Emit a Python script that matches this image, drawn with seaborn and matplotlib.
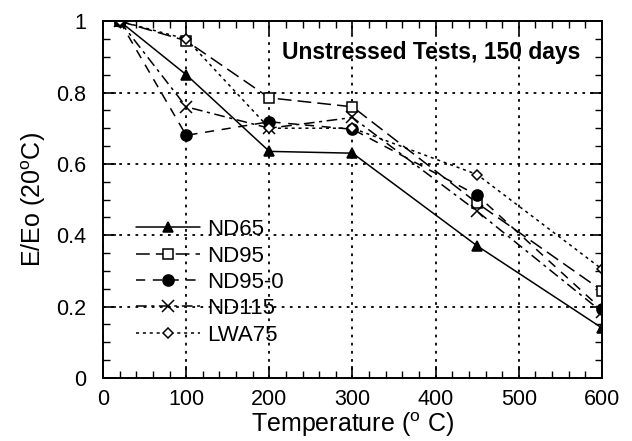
import matplotlib
matplotlib.use("Agg")
import matplotlib.pyplot as plt
from matplotlib.ticker import MultipleLocator
import seaborn as sns
import pandas as pd

temps = [20, 100, 200, 300, 450, 600]
nd65 = [1.0, 0.85, 0.635, 0.63, 0.37, 0.14]
nd95 = [1.0, 0.945, 0.785, 0.76, 0.49, 0.245]
nd95_0 = [1.0, 0.68, 0.718, 0.697, 0.512, 0.192]
nd115 = [1.0, 0.76, 0.70, 0.73, 0.467, 0.185]
lwa75 = [1.0, 0.95, 0.70, 0.70, 0.57, 0.305]
series_names = ["ND65", "ND95", "ND95-0", "ND115", "LWA75"]
title_text = "Unstressed Tests, 150 days"

sns.set_style("ticks")
plt.rcParams['font.family'] = ['Liberation Sans', 'DejaVu Sans']
plt.rcParams['text.color'] = 'black'
plt.rcParams['axes.labelcolor'] = 'black'
plt.rcParams['xtick.color'] = 'black'
plt.rcParams['ytick.color'] = 'black'

frames = []
for name, vals in zip(series_names, [nd65, nd95, nd95_0, nd115, lwa75]):
    frames.append(pd.DataFrame({"T": temps, "E": vals, "series": name}))
df = pd.concat(frames, ignore_index=True)

fig = plt.figure(figsize=(6.32, 4.41), dpi=100)
ax = fig.add_axes([0.163, 0.143, 0.7895, 0.809])

styles = {
    "ND65": dict(marker="^", dashes=None, mfc="black", ms=7),
    "ND95": dict(marker="s", dashes=(9, 4), mfc="white", ms=7),
    "ND95-0": dict(marker="o", dashes=(6, 5), mfc="black", ms=8),
    "ND115": dict(marker="x", dashes=(7, 3, 2, 3), mfc="black", ms=8),
    "LWA75": dict(marker="D", dashes=(2, 2.5), mfc="white", ms=5),
}

for name in series_names:
    st = styles[name]
    sub = df[df["series"] == name]
    sns.lineplot(data=sub, x="T", y="E", ax=ax, color="black", lw=1.1,
                 marker=st["marker"], markersize=st["ms"],
                 markerfacecolor=st["mfc"], markeredgecolor="black",
                 markeredgewidth=1.1, label=name, legend=False)
    line = ax.get_lines()[-1]
    if st["dashes"] is not None:
        line.set_dashes(st["dashes"])

ax.set_xlim(0, 600)
ax.set_ylim(0, 1)
ax.xaxis.set_major_locator(MultipleLocator(100))
ax.xaxis.set_minor_locator(MultipleLocator(20))
ax.yaxis.set_minor_locator(MultipleLocator(0.05))
ax.set_yticks([0, 0.2, 0.4, 0.6, 0.8, 1.0])
ax.set_yticklabels(["0", "0.2", "0.4", "0.6", "0.8", "1"])
ax.tick_params(which="both", direction="in", top=True, right=True, labelsize=15.5,
               color="black", labelcolor="black")
ax.tick_params(which="major", length=9, width=1.2)
ax.tick_params(which="minor", length=5, width=1)
ax.tick_params(axis="y", pad=12)
ax.tick_params(axis="x", pad=8)
for s in ax.spines.values():
    s.set_color("black")
    s.set_linewidth(1.4)

ax.grid(True, which="major", color="black", linestyle=(0, (1.5, 3)), linewidth=1.3)
ax.set_axisbelow(True)

ax.set_xlabel("Temperature ($\\mathregular{^{o}}$ C)", fontsize=18, labelpad=0, color="black")
ax.set_ylabel("E/Eo (20$\\mathregular{^{o}}$C)", fontsize=18, labelpad=6, color="black")

ax.text(0.956, 0.913, title_text, transform=ax.transAxes, ha="right", va="center",
        fontsize=16.5, fontweight="bold", color="black")

leg = ax.legend(loc="upper left", bbox_to_anchor=(0.066, 0.445), frameon=False,
                fontsize=16, handlelength=2.9, labelspacing=0.24, handletextpad=0.3,
                borderaxespad=0, borderpad=0)
for t in leg.get_texts():
    t.set_color("black")

fig.savefig("out.png", dpi=100)
